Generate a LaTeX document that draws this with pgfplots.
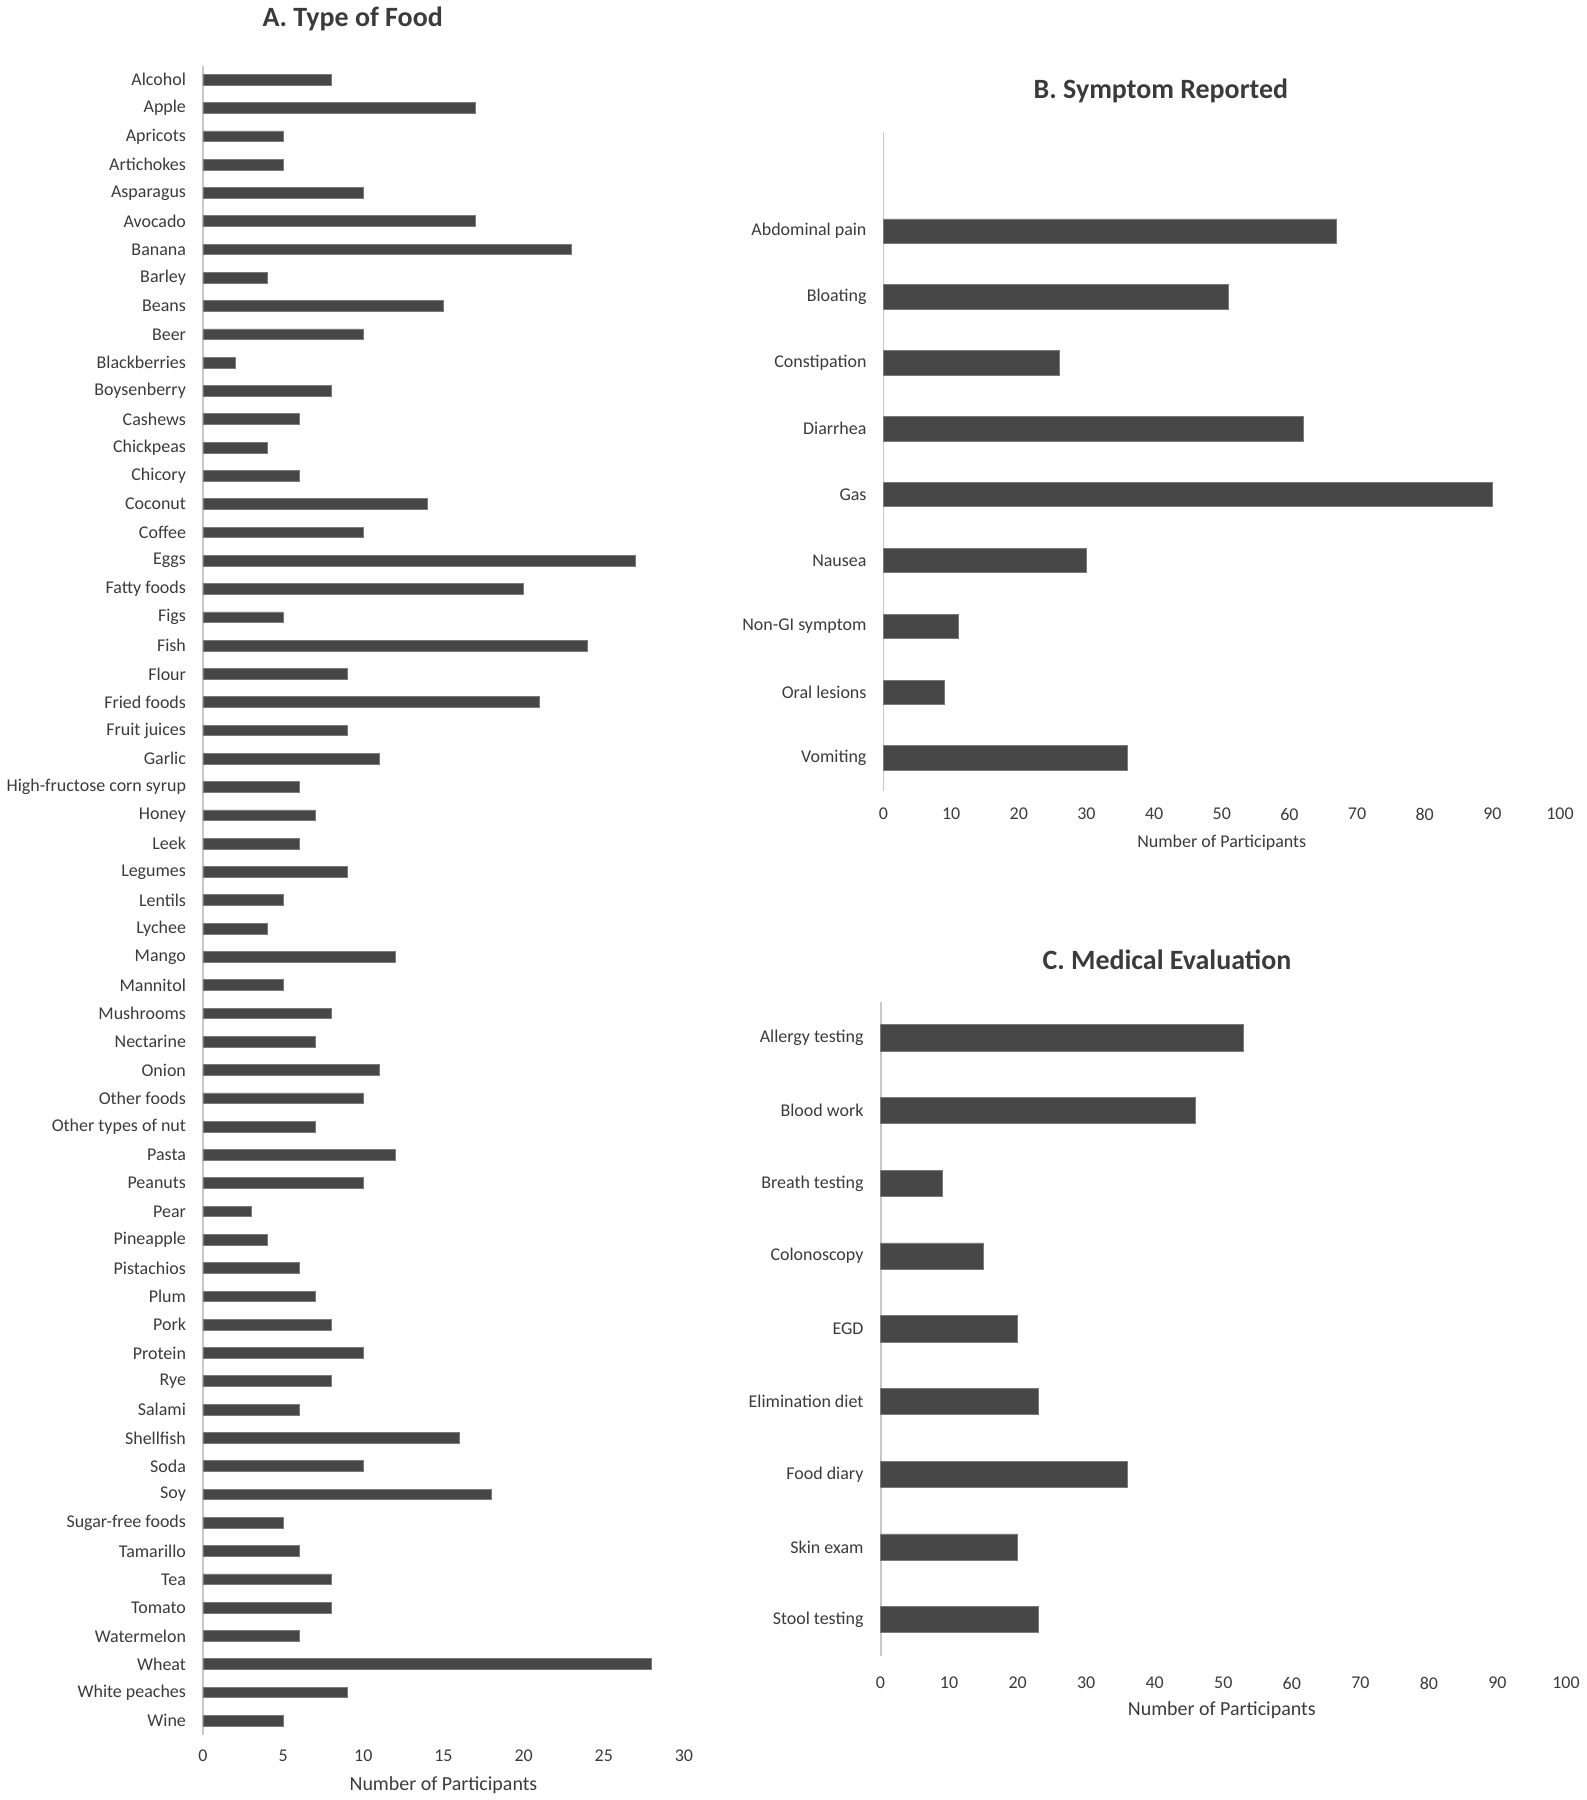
\documentclass[border=0pt]{standalone}
\usepackage{fontspec}
\setmainfont{Carlito}
\usepackage{pgfplots}
\pgfplotsset{compat=1.18}

\definecolor{barfill}{HTML}{474747}
\definecolor{bardraw}{HTML}{7A7A7A}
\definecolor{txt}{HTML}{3B3B3B}
\definecolor{axisgray}{HTML}{C8C8C8}

\pgfplotsset{panel/.style={
  scale only axis, xbar, y dir=reverse, xmin=0,
  axis lines*=left,
  x axis line style={draw=none},
  y axis line style={draw=axisgray, line width=1pt, -},
  major tick length=0pt, tick style={draw=none},
  ticklabel style={font=\fontsize{9}{11}\selectfont, text=txt},
  xticklabel style={yshift=-4pt},
  yticklabel style={xshift=-5pt},
  /pgf/number format/assume math mode=true,
  enlargelimits=false, clip=false,
},
bars/.style={fill=barfill, draw=bardraw, line width=0.4pt}}

\begin{document}
\begin{tikzpicture}
\path (0,0) rectangle (793.5pt,900pt);

% A. type of food
\begin{axis}[panel,
  at={(101pt,32pt)}, anchor=south west,
  width=241pt, height=836.5pt,
  xmax=30, xtick={0,5,...,30},
  ymin=-0.5, ymax=58.5, ytick={0,...,58},
  bar width=0.38,
  yticklabels={Alcohol,Apple,Apricots,Artichokes,Asparagus,Avocado,Banana,Barley,Beans,Beer,
    Blackberries,Boysenberry,Cashews,Chickpeas,Chicory,Coconut,Coffee,Eggs,Fatty foods,Figs,
    Fish,Flour,Fried foods,Fruit juices,Garlic,High-fructose corn syrup,Honey,Leek,Legumes,Lentils,
    Lychee,Mango,Mannitol,Mushrooms,Nectarine,Onion,Other foods,Other types of nut,Pasta,Peanuts,
    Pear,Pineapple,Pistachios,Plum,Pork,Protein,Rye,Salami,Shellfish,Soda,
    Soy,Sugar-free foods,Tamarillo,Tea,Tomato,Watermelon,Wheat,White peaches,Wine},
]
\addplot[bars] coordinates {
(8,0)(17,1)(5,2)(5,3)(10,4)(17,5)(23,6)(4,7)(15,8)(10,9)
(2,10)(8,11)(6,12)(4,13)(6,14)(14,15)(10,16)(27,17)(20,18)(5,19)
(24,20)(9,21)(21,22)(9,23)(11,24)(6,25)(7,26)(6,27)(9,28)(5,29)
(4,30)(12,31)(5,32)(8,33)(7,34)(11,35)(10,36)(7,37)(12,38)(10,39)
(3,40)(4,41)(6,42)(7,43)(8,44)(10,45)(8,46)(6,47)(16,48)(10,49)
(18,50)(5,51)(6,52)(8,53)(8,54)(6,55)(28,56)(9,57)(5,58)};
\end{axis}

% B. symptoms
\begin{axis}[panel,
  at={(442pt,505pt)}, anchor=south west,
  width=339pt, height=330pt,
  xmax=100, xtick={0,10,...,100},
  ymin=-1.5, ymax=8.5, ytick={0,...,8},
  bar width=0.37,
  xticklabel style={yshift=-1pt},
  yticklabels={Abdominal pain,Bloating,Constipation,Diarrhea,Gas,Nausea,Non-GI symptom,Oral lesions,Vomiting},
]
\addplot[bars] coordinates {(67,0)(51,1)(26,2)(62,3)(90,4)(30,5)(11,6)(9,7)(36,8)};
\end{axis}

% C. medical evaluation
\begin{axis}[panel,
  at={(440.5pt,71.5pt)}, anchor=south west,
  width=343.5pt, height=328pt,
  xmax=100, xtick={0,10,...,100},
  ymin=-0.5, ymax=8.5, ytick={0,...,8},
  bar width=0.36,
  xticklabel style={yshift=-3pt},
  yticklabels={Allergy testing,Blood work,Breath testing,Colonoscopy,EGD,Elimination diet,Food diary,Skin exam,Stool testing},
]
\addplot[bars] coordinates {(53,0)(46,1)(9,2)(15,3)(20,4)(23,5)(36,6)(20,7)(23,8)};
\end{axis}

\node[text=txt, font=\fontsize{14}{16}\selectfont\bfseries] at (176pt,892pt) {A. Type of Food};
\node[text=txt, font=\fontsize{14}{16}\selectfont\bfseries] at (581pt,856pt) {B. Symptom Reported};
\node[text=txt, font=\fontsize{14}{16}\selectfont\bfseries] at (584pt,420.5pt) {C. Medical Evaluation};

\node[text=txt, font=\fontsize{10}{12}\selectfont] at (221.5pt,7pt) {Number of Participants};
\node[text=txt, font=\fontsize{9}{11}\selectfont] at (611.5pt,479pt) {Number of Participants};
\node[text=txt, font=\fontsize{10}{12}\selectfont] at (611.5pt,44.5pt) {Number of Participants};
\end{tikzpicture}
\end{document}
